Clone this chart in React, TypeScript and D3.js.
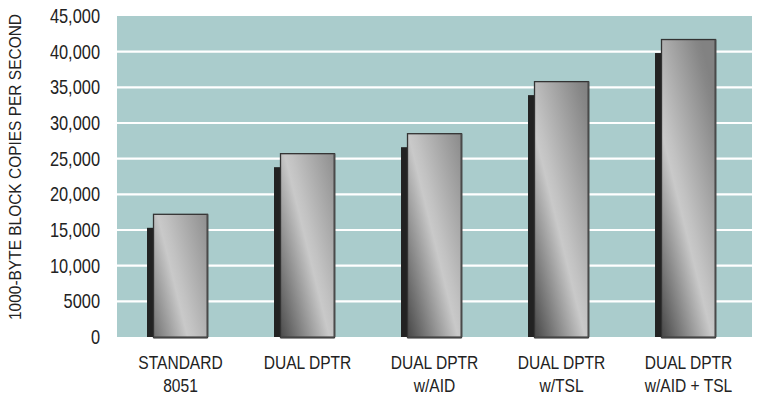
import React from "react";
import * as d3 from "d3";

// Chart data
const categories = ["STANDARD\n8051", "DUAL DPTR", "DUAL DPTR\nw/AID", "DUAL DPTR\nw/TSL", "DUAL DPTR\nw/AID + TSL"];
const values = [17200, 25700, 28500, 35800, 41700];
const yTicks = [0, 5000, 10000, 15000, 20000, 25000, 30000, 35000, 40000, 45000];
const yTickLabels = ["0", "5000", "10,000", "15,000", "20,000", "25,000", "30,000", "35,000", "40,000", "45,000"];
const yTitle = "1000-BYTE BLOCK COPIES PER SECOND";

const W = 757;
const H = 407;
const plot = { left: 117, right: 752, top: 16, bottom: 337 };
const FONT = "'Liberation Sans', Arial, sans-serif";
// horizontal squeeze giving a condensed face
const NARROW = 0.82;

// Drop shadow behind each bar: shifted left and down
const SHADOW_DX = 6.5;
const SHADOW_DY = 13.5;
// Slope of the diagonal highlight in the bar shading (dx per dy)
const STREAK_SLOPE = 0.245;

function NarrowText(props: {
  x: number;
  y: number;
  anchor: "start" | "middle" | "end";
  size: number;
  children: React.ReactNode;
}) {
  return (
    <text
      transform={`translate(${props.x},${props.y}) scale(${NARROW},1)`}
      textAnchor={props.anchor}
      fontFamily={FONT}
      fontSize={props.size}
      fill="#222"
    >
      {props.children}
    </text>
  );
}

export default function App() {
  const x = d3
    .scaleBand<string>()
    .domain(categories)
    .range([plot.left, plot.right])
    .paddingInner(0.575)
    .paddingOuter(0.2875);
  const y = d3.scaleLinear().domain([0, 45000]).range([plot.bottom, plot.top]);
  const bw = x.bandwidth();

  const bars = categories.map((c, i) => {
    const v = values[i];
    const bx = x(c)!;
    const top = y(v);
    const h = y(0) - top;
    // highlight runs diagonally; anchor it near the left edge
    const anchorY = top + Math.max(0, h - 190);
    const ax = bx + 4;
    const len = Math.hypot(1, STREAK_SLOPE);
    const ux = 1 / len;
    const uy = -STREAK_SLOPE / len;
    const R = 60;
    return {
      c, v, bx, top, h, i,
      g: { x1: ax - ux * R, y1: anchorY - uy * R, x2: ax + ux * R, y2: anchorY + uy * R },
    };
  });

  return (
    <svg width={W} height={H} style={{ display: "block", position: "absolute", left: 0, top: 0 }}>
      <defs>
        {bars.map((b) => (
          <linearGradient
            key={b.i}
            id={`barGrad${b.i}`}
            gradientUnits="userSpaceOnUse"
            x1={b.g.x1}
            y1={b.g.y1}
            x2={b.g.x2}
            y2={b.g.y2}
          >
            <stop offset="0" stopColor="#3e3e3e" />
            <stop offset="0.12" stopColor="#505050" />
            <stop offset="0.5" stopColor="#c9c9c9" />
            <stop offset="0.56" stopColor="#c2c2c2" />
            <stop offset="0.95" stopColor="#878787" />
            <stop offset="1" stopColor="#828282" />
          </linearGradient>
        ))}
      </defs>
      <rect x={0} y={0} width={W} height={H} fill="#ffffff" />
      <rect
        x={plot.left}
        y={plot.top}
        width={plot.right - plot.left}
        height={plot.bottom - plot.top}
        fill="#aacccc"
      />
      {yTicks
        .filter((t) => t > 0 && t < 45000)
        .map((t) => (
          <line key={t} x1={plot.left} x2={plot.right} y1={y(t)} y2={y(t)} stroke="#ffffff" strokeWidth={2.2} />
        ))}
      {yTicks.map((t, i) => (
        <NarrowText key={t} x={100} y={y(t) + 7} anchor="end" size={20}>
          {yTickLabels[i]}
        </NarrowText>
      ))}
      <text
        transform={`translate(21, 167) rotate(-90)`}
        textAnchor="middle"
        fontFamily={FONT}
        fontSize={16}
        fill="#222"
        textLength={306}
        lengthAdjust="spacingAndGlyphs"
      >
        {yTitle}
      </text>
      {bars.map((b) => (
        <g key={b.i}>
          <rect
            x={b.bx - SHADOW_DX}
            y={b.top + SHADOW_DY}
            width={SHADOW_DX + 2}
            height={y(0) - b.top - SHADOW_DY}
            fill="#222222"
          />
          <rect
            x={b.bx}
            y={b.top}
            width={bw}
            height={b.h + 0.5}
            fill={`url(#barGrad${b.i})`}
            stroke="#333"
            strokeWidth={1.3}
          />
          <line x1={b.bx} x2={b.bx + bw} y1={y(0) + 0.5} y2={y(0) + 0.5} stroke="#444" strokeWidth={2} />
          <line x1={b.bx + bw} x2={b.bx + bw} y1={b.top} y2={y(0)} stroke="#4a4a4a" strokeWidth={1.8} />
        </g>
      ))}
      {categories.map((c) => {
        const lines = c.split("\n");
        const cx = x(c)! + bw / 2;
        return lines.map((l, k) => (
          <NarrowText key={c + k} x={cx} y={369 + k * 23} anchor="middle" size={19}>
            {l}
          </NarrowText>
        ));
      })}
    </svg>
  );
}
